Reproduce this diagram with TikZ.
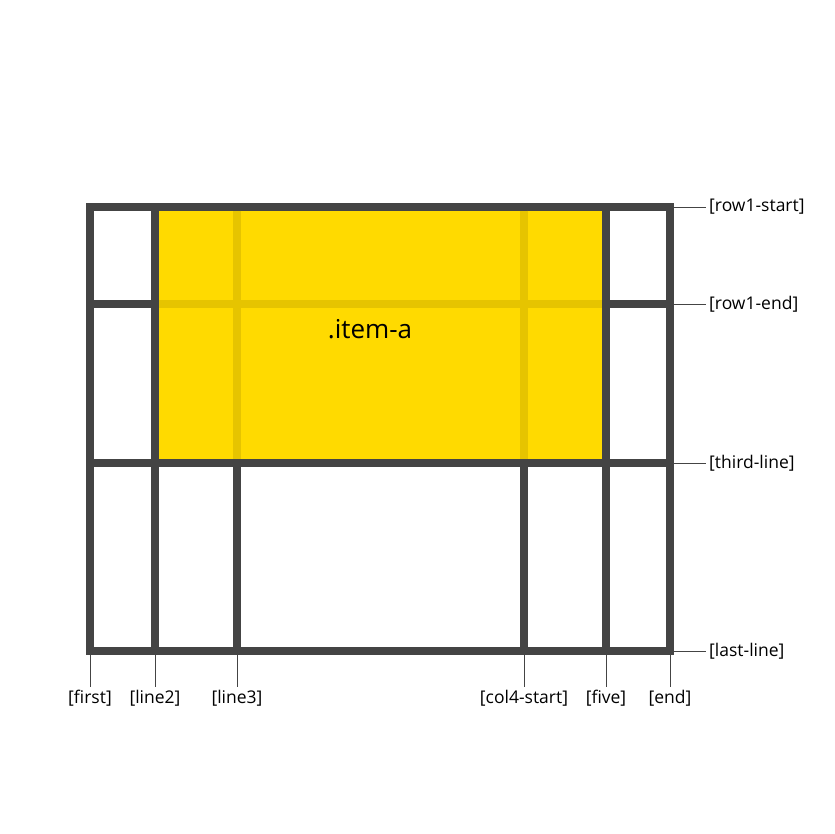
\documentclass[tikz,border=0pt]{standalone}
\usepackage{fontspec}
\setmainfont{Open Sans}
\usetikzlibrary{positioning,calc}
\definecolor{gridgray}{HTML}{444444}
\definecolor{itemyellow}{HTML}{FFDA00}
\definecolor{itemline}{HTML}{E6C400}

\begin{document}
\begin{tikzpicture}[x=1pt,y=-1pt]
  \tikzstyle{gridline}=[draw=gridgray,line width=7.5pt]
  \tikzstyle{tick}=[draw=gridgray,line width=0.9pt]
  \tikzstyle{lbl}=[font=\fontsize{17.5}{21}\selectfont,inner sep=3pt]
  \useasboundingbox (0,0) rectangle (834,834);
  % named grid lines
  \foreach \name/\x in {first/90,line2/155,line3/237,col4/524,five/606,end/670} {
    \coordinate (\name-top) at (\x,207);
    \coordinate (\name-bot) at (\x,651);
  }
  \foreach \name/\y in {row1s/207,row1e/304,third/463,last/651} {
    \coordinate (\name-left) at (90,\y);
    \coordinate (\name-right) at (670,\y);
  }
  % grid
  \foreach \name in {line2,line3,col4,five}
    \draw[gridline] (\name-top) -- (\name-bot);
  \foreach \name in {row1e,third}
    \draw[gridline] (\name-left) -- (\name-right);
  \draw[gridline] (first-top) rectangle (end-bot);
  % item-a area
  \coordinate (item-nw) at (159,210.75);
  \coordinate (item-se) at (602.25,459.25);
  \fill[itemyellow] (item-nw) rectangle (item-se);
  \draw[itemline,line width=7.5pt] (237,210.75) -- (237,459.25);
  \draw[itemline,line width=7.5pt] (524,210.75) -- (524,459.25);
  \draw[itemline,line width=7.5pt] (159,304) -- (602.25,304);
  \node[font=\fontsize{26}{30}\selectfont] (item) at (370,329) {.item-a};
  % column names
  \foreach \name/\txt in {first/{[first]},line2/{[line2]},line3/{[line3]},col4/{[col4-start]},five/{[five]},end/{[end]}} {
    \node[lbl,anchor=north] (lbl-\name) at ($(\name-bot)+(0,36)$) {\txt};
    \draw[tick] ($(\name-bot)+(0,4)$) -- (lbl-\name.north);
  }
  % row names
  \foreach \name/\txt in {row1s/{[row1-start]},row1e/{[row1-end]},third/{[third-line]},last/{[last-line]}} {
    \node[lbl,anchor=west] (lbl-\name) at ($(\name-right)+(36,0)$) {\txt};
    \draw[tick] ($(\name-right)+(4,0)$) -- (lbl-\name.west);
  }
\end{tikzpicture}
\end{document}
